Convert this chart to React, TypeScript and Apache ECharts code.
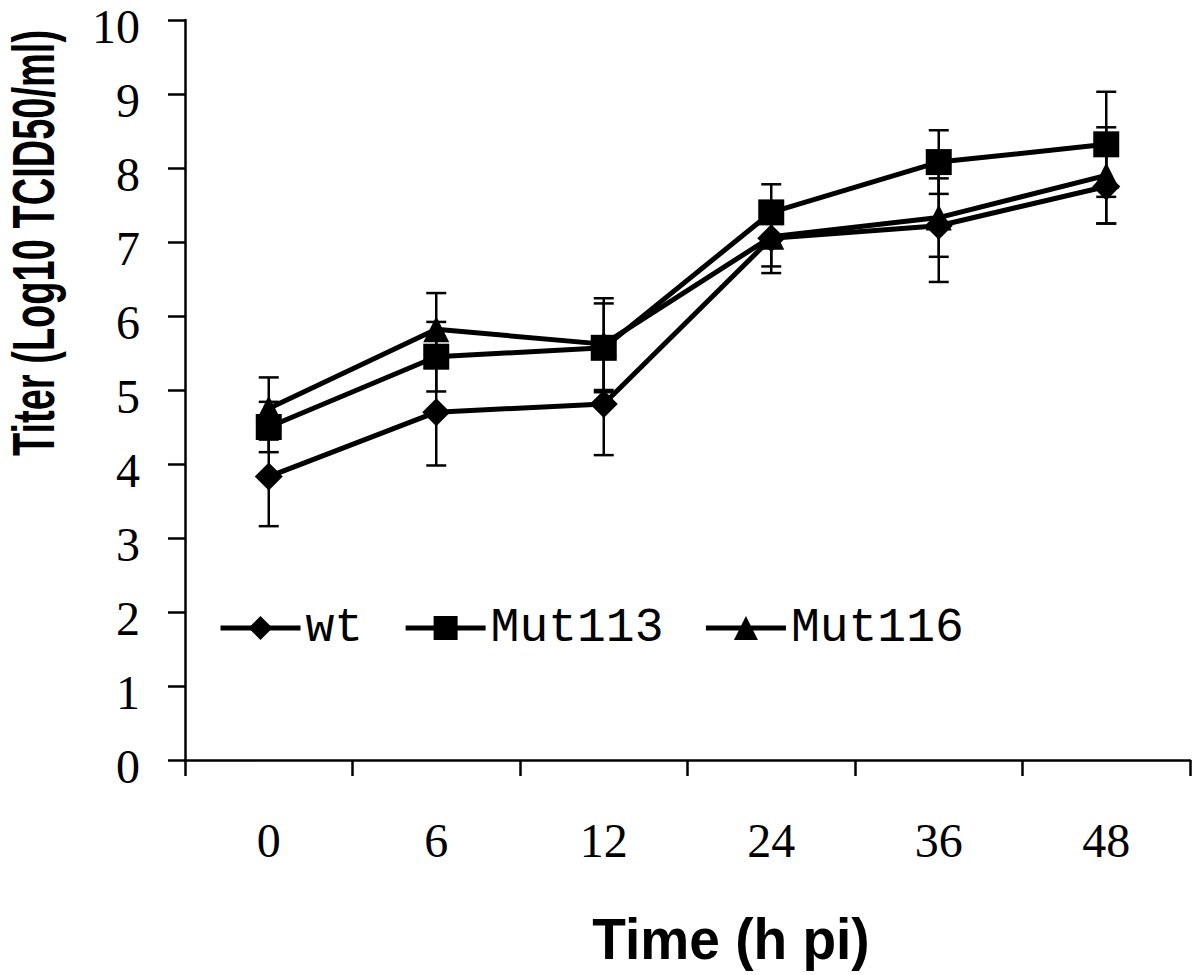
import React, { useEffect, useRef } from "react";
import * as echarts from "echarts";

const categories = ["0", "6", "12", "24", "36", "48"];

const wtMean = [3.83, 4.7, 4.81, 7.05, 7.22, 7.75];
const wtErr = [0.67, 0.72, 0.69, 0.47, 0.76, 0.5];

const mut113Mean = [4.5, 5.45, 5.57, 7.4, 8.08, 8.32];
const mut113Err = [0.34, 0.47, 0.6, 0.38, 0.43, 0.71];

const mut116Mean = [4.75, 5.82, 5.62, 7.07, 7.33, 7.9];
const mut116Err = [0.42, 0.49, 0.62, 0.4, 0.53, 0.65];

const seriesNames = ["wt", "Mut113", "Mut116"];
const yMin = 0;
const yMax = 10;
const yInterval = 1;

const xTitle = "Time (h pi)";
const yTitle = "Titer (Log10 TCID50/ml)";

function errorData(mean: number[], err: number[]) {
  return mean.map((m, i) => [i, m - err[i], m + err[i]]);
}

function errorSeries(name: string, mean: number[], err: number[]) {
  return {
    type: "custom",
    name: name + "-err",
    data: errorData(mean, err),
    z: 1,
    silent: true,
    encode: { x: 0, y: [1, 2] },
    renderItem: (params: any, api: any) => {
      const top = api.coord([api.value(0), api.value(2)]);
      const bot = api.coord([api.value(0), api.value(1)]);
      const x = top[0];
      const hw = 10;
      const style = { stroke: "#000", lineWidth: 2.5, fill: "none" };
      return {
        type: "group",
        children: [
          { type: "line", shape: { x1: x, y1: top[1], x2: x, y2: bot[1] }, style },
          { type: "line", shape: { x1: x - hw, y1: top[1], x2: x + hw, y2: top[1] }, style },
          { type: "line", shape: { x1: x - hw, y1: bot[1], x2: x + hw, y2: bot[1] }, style },
        ],
      };
    },
  };
}

function lineSeries(name: string, mean: number[], symbol: string, size: number) {
  return {
    type: "line",
    name,
    data: mean,
    symbol,
    symbolSize: size,
    showAllSymbol: true,
    z: 3,
    lineStyle: { color: "#000", width: 5 },
    itemStyle: { color: "#000", borderWidth: 0 },
  };
}

export default function App() {
  const ref = useRef<HTMLDivElement>(null);

  useEffect(() => {
    if (!ref.current) return;
    const chart = echarts.init(ref.current, null, { renderer: "svg" });
    const option: any = {
      animation: false,
      backgroundColor: "#fff",
      grid: { left: 185, right: 10, top: 20, bottom: 215, containLabel: false },
      legend: {
        data: seriesNames,
        left: 218,
        top: 604,
        padding: 0,
        itemWidth: 80,
        itemHeight: 30,
        itemGap: 40,
        lineStyle: { width: 5, color: "#000" },
        textStyle: { fontFamily: "'Liberation Mono', monospace", fontSize: 48, color: "#000" },
      },
      xAxis: {
        type: "category",
        data: categories,
        boundaryGap: true,
        axisLine: { show: true, lineStyle: { color: "#000", width: 2.5 } },
        axisTick: { show: true, length: 16, alignWithLabel: false, lineStyle: { color: "#000", width: 2.5 } },
        axisLabel: {
          interval: 0,
          margin: 56,
          fontFamily: "'Liberation Serif', serif",
          fontSize: 48,
          color: "#000",
        },
        splitLine: { show: false },
      },
      yAxis: {
        type: "value",
        min: yMin,
        max: yMax,
        interval: yInterval,
        axisLine: { show: true, lineStyle: { color: "#000", width: 2.5 } },
        axisTick: { show: true, length: 17, lineStyle: { color: "#000", width: 2.5 } },
        axisLabel: {
          margin: 45,
          fontFamily: "'Liberation Serif', serif",
          fontSize: 48,
          verticalAlign: "top",
          lineHeight: 12,
          color: "#000",
        },
        splitLine: { show: false },
      },
      graphic: [
        {
          type: "text",
          x: 34,
          y: 243,
          rotation: Math.PI / 2,
          scaleX: 0.634,
          style: {
            text: yTitle,
            fontFamily: "'Liberation Sans', Arial, sans-serif",
            fontSize: 60,
            fontWeight: "bold",
            fill: "#000",
            align: "center",
            verticalAlign: "middle",
            textAlign: "center",
            textVerticalAlign: "middle",
          },
        },
        {
          type: "text",
          x: 731,
          y: 939,
          scaleX: 0.95,
          style: {
            text: xTitle,
            fontFamily: "'Liberation Sans', Arial, sans-serif",
            fontSize: 58,
            fontWeight: "bold",
            fill: "#000",
            align: "center",
            verticalAlign: "middle",
            textAlign: "center",
            textVerticalAlign: "middle",
          },
        },
      ],
      series: [
        errorSeries("wt", wtMean, wtErr),
        errorSeries("Mut113", mut113Mean, mut113Err),
        errorSeries("Mut116", mut116Mean, mut116Err),
        lineSeries("wt", wtMean, "diamond", 28),
        lineSeries("Mut116", mut116Mean, "triangle", 26),
        lineSeries("Mut113", mut113Mean, "rect", 26),
      ],
    };
    chart.setOption(option);
    return () => chart.dispose();
  }, []);

  return (
    <div
      ref={ref}
      style={{ position: "fixed", left: 0, top: 0, width: 1200, height: 975, background: "#fff" }}
    />
  );
}
